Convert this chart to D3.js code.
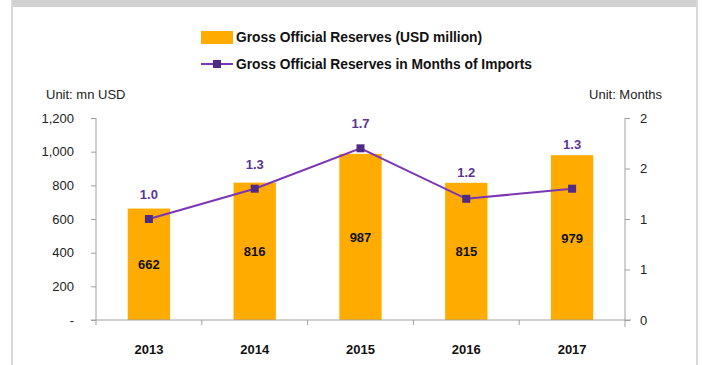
<!DOCTYPE html>
<html>
<head>
<meta charset="utf-8">
<script src="https://cdn.jsdelivr.net/npm/d3@7"></script>
<style>
  html, body { margin: 0; padding: 0; background: #fff; }
  svg { display: block; font-family: "Liberation Sans", Arial, sans-serif; }
</style>
</head>
<body>
<svg id="chart" width="703" height="365"></svg>
<script>
// Reserves data
const years = ["2013", "2014", "2015", "2016", "2017"];
const reserves = [662, 816, 987, 815, 979];          // USD million
const monthsOfImports = [1.0, 1.3, 1.7, 1.2, 1.3];    // months
const leftTicks = [0, 200, 400, 600, 800, 1000, 1200];
const rightTicks = [0, 0.5, 1, 1.5, 2];

const barColor = "#ffab00";
const lineColor = "#7b36b3";
const markerColor = "#4f2b86";
const labelPurple = "#5a3596";
const axisColor = "#a0a0a0";
const textColor = "#222";

const svg = d3.select("#chart");

// page frame
svg.append("rect").attr("x", 11).attr("y", 0).attr("width", 687).attr("height", 7).attr("fill", "#d2d2d2");
svg.append("rect").attr("x", 11).attr("y", 0).attr("width", 2).attr("height", 365).attr("fill", "#d8d8d8");
svg.append("rect").attr("x", 696).attr("y", 0).attr("width", 2).attr("height", 365).attr("fill", "#d8d8d8");

const plot = { left: 96, right: 625, top: 118, bottom: 320 };

const x = d3.scaleBand().domain(years).range([plot.left, plot.right]).paddingInner(0).paddingOuter(0);
const yL = d3.scaleLinear().domain([0, 1200]).range([plot.bottom, plot.top]);
const yR = d3.scaleLinear().domain([0, 2]).range([plot.bottom, plot.top]);

// bars
const barW = x.bandwidth() * 0.4;
svg.append("g").selectAll("rect").data(years).join("rect")
  .attr("x", d => x(d) + (x.bandwidth() - barW) / 2)
  .attr("y", (d, i) => yL(reserves[i]))
  .attr("width", barW)
  .attr("height", (d, i) => yL(0) - yL(reserves[i]))
  .attr("fill", barColor);

// bar value labels
svg.append("g").selectAll("text").data(years).join("text")
  .attr("x", d => x(d) + x.bandwidth() / 2)
  .attr("y", (d, i) => (yL(reserves[i]) + yL(0)) / 2 + 5)
  .attr("text-anchor", "middle")
  .attr("font-size", 13).attr("font-weight", "bold").attr("fill", "#111")
  .text((d, i) => d3.format("d")(reserves[i]));

// left axis
const gL = svg.append("g").attr("transform", `translate(${plot.left},0)`)
  .call(d3.axisLeft(yL).tickValues(leftTicks).tickSize(5).tickPadding(17)
    .tickFormat(d => d === 0 ? "-" : d3.format(",")(d)));
gL.select(".domain").remove();
gL.append("line").attr("x1", 0).attr("x2", 0).attr("y1", plot.top).attr("y2", plot.bottom + 5);

// right axis (whole-month labels)
const gR = svg.append("g").attr("transform", `translate(${plot.right},0)`)
  .call(d3.axisRight(yR).tickValues(rightTicks).tickSize(5).tickPadding(10)
    .tickFormat(d => String(Math.round(d))));
gR.select(".domain").remove();
gR.append("line").attr("x1", 0).attr("x2", 0).attr("y1", plot.top).attr("y2", plot.bottom + 7);

// bottom axis
const gB = svg.append("g").attr("transform", `translate(0,${plot.bottom})`)
  .call(d3.axisBottom(x).tickSize(0).tickPadding(25));
gB.select(".domain").remove();
gB.append("line").attr("x1", plot.left - 5).attr("x2", plot.right + 6).attr("y1", 0).attr("y2", 0);
gB.selectAll(".sep").data(years.slice(1)).join("line").attr("class", "sep")
  .attr("x1", d => x(d)).attr("x2", d => x(d)).attr("y1", 0).attr("y2", 5);

[gL, gR, gB].forEach(g => {
  g.selectAll("line").attr("stroke", axisColor).attr("stroke-width", 1);
  g.selectAll("text").attr("font-size", 13).attr("font-family", "Liberation Sans, Arial, sans-serif").attr("fill", textColor);
});
gB.selectAll("text").attr("font-weight", "bold").attr("fill", "#111");

// line series
const line = d3.line()
  .x((d, i) => x(years[i]) + x.bandwidth() / 2)
  .y(d => yR(d));
svg.append("path").datum(monthsOfImports)
  .attr("d", line).attr("fill", "none").attr("stroke", lineColor).attr("stroke-width", 2);
svg.append("g").selectAll("rect").data(monthsOfImports).join("rect")
  .attr("x", (d, i) => x(years[i]) + x.bandwidth() / 2 - 4)
  .attr("y", d => yR(d) - 4)
  .attr("width", 8).attr("height", 8).attr("fill", markerColor);
// month labels sit above the marker, lifted clear of the bar top when needed
svg.append("g").selectAll("text").data(monthsOfImports).join("text")
  .attr("x", (d, i) => x(years[i]) + x.bandwidth() / 2)
  .attr("y", (d, i) => Math.min(yR(d) - 20, yL(reserves[i]) - 6))
  .attr("text-anchor", "middle")
  .attr("font-size", 13).attr("font-weight", "bold").attr("fill", labelPurple)
  .text(d => d3.format(".1f")(d));

// unit labels
svg.append("text").attr("x", 46).attr("y", 99).attr("font-size", 13).attr("fill", textColor).text("Unit: mn USD");
svg.append("text").attr("x", 662).attr("y", 99).attr("text-anchor", "end").attr("font-size", 13).attr("fill", textColor).text("Unit: Months");

// legend
const lg = svg.append("g");
lg.append("rect").attr("x", 201).attr("y", 31).attr("width", 32).attr("height", 13).attr("fill", barColor);
lg.append("text").attr("x", 236).attr("y", 42).attr("font-size", 13.8).attr("font-weight", "bold").attr("fill", "#111")
  .text("Gross Official Reserves (USD million)");
lg.append("line").attr("x1", 201).attr("x2", 233).attr("y1", 64).attr("y2", 64).attr("stroke", lineColor).attr("stroke-width", 2);
lg.append("rect").attr("x", 213).attr("y", 60).attr("width", 8).attr("height", 8).attr("fill", markerColor);
lg.append("text").attr("x", 236).attr("y", 69).attr("font-size", 13.8).attr("font-weight", "bold").attr("fill", "#111")
  .text("Gross Official Reserves in Months of Imports");
</script>
</body>
</html>
